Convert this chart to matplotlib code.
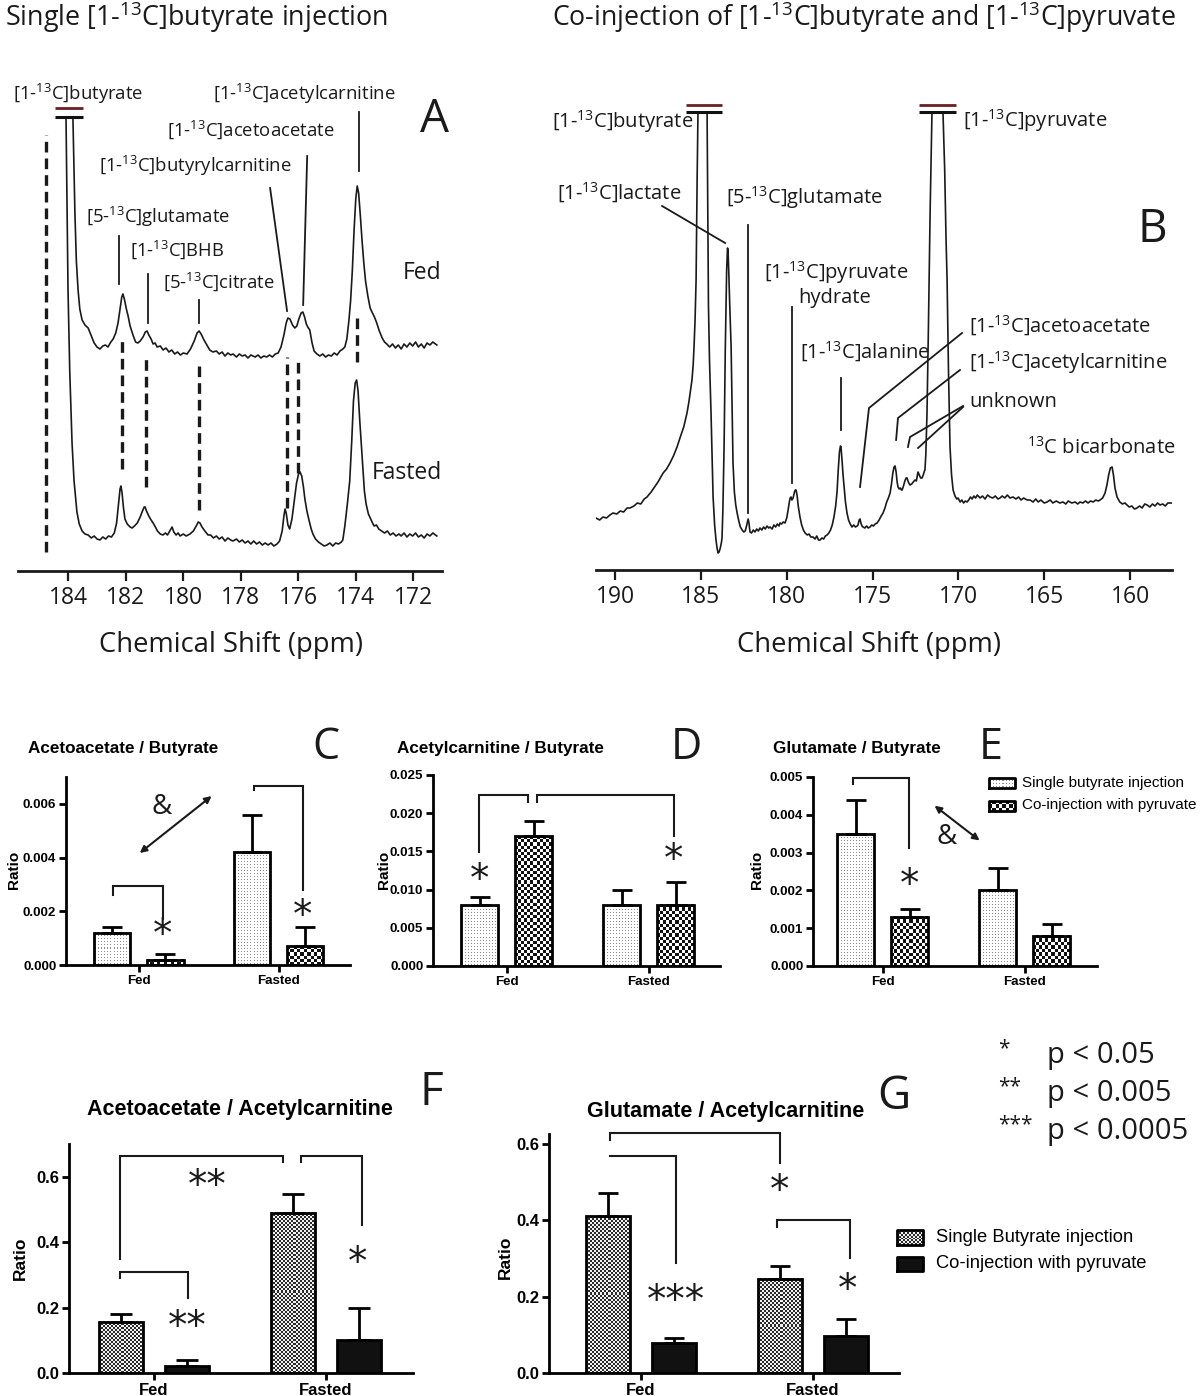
import matplotlib
matplotlib.use('Agg')
import matplotlib.pyplot as plt
import numpy as np
from matplotlib.colors import ListedColormap

plt.rcParams['mathtext.fontset'] = 'custom'
plt.rcParams['mathtext.rm'] = 'Open Sans'
plt.rcParams['mathtext.it'] = 'Open Sans'
plt.rcParams['mathtext.bf'] = 'Open Sans:bold'

W, H = 1200, 1396
fig = plt.figure(figsize=(12, 13.96), dpi=100)

# ---------------- DATA ----------------
# Panel A: single butyrate injection spectra (ppm, intensity a.u.)
a_fed_ppm = [183.84, 183.80, 183.77, 183.72, 183.66, 183.60, 183.52, 183.42, 183.31, 183.20,
             183.10, 183.00, 182.90, 182.80, 182.71, 182.62, 182.52, 182.44, 182.35, 182.27,
             182.20, 182.14, 182.10, 182.05, 181.98, 181.92, 181.85, 181.75, 181.66, 181.58,
             181.50, 181.40, 181.32, 181.26, 181.20, 181.12, 181.05, 180.98, 180.91, 180.80,
             180.70, 180.60, 180.50, 180.40, 180.30, 180.20, 180.10, 180.00, 179.87, 179.75,
             179.62, 179.52, 179.45, 179.38, 179.28, 179.18, 179.08, 178.97, 178.85, 178.75,
             178.65, 178.55, 178.45, 178.35, 178.27, 178.15, 178.05, 177.95, 177.85, 177.75,
             177.65, 177.50, 177.40, 177.30, 177.20, 177.10, 177.00, 176.90, 176.80, 176.70,
             176.60, 176.50, 176.42, 176.36, 176.29, 176.20, 176.12, 176.05, 175.98, 175.90,
             175.84, 175.78, 175.72, 175.67, 175.60, 175.52, 175.45, 175.35, 175.25, 175.15,
             175.05, 174.95, 174.85, 174.75, 174.65, 174.55, 174.45, 174.38, 174.31, 174.24,
             174.18, 174.12, 174.06, 174.00, 173.95, 173.90, 173.84, 173.78, 173.72, 173.66,
             173.58, 173.50, 173.42, 173.35, 173.27, 173.18, 173.08, 173.00, 172.92, 172.82,
             172.72, 172.62, 172.52, 172.42, 172.32, 172.22, 172.12, 172.02, 171.92, 171.82,
             171.72, 171.62, 171.52, 171.42, 171.32, 171.18]
a_fed_int = [454, 400, 358, 310, 281, 262, 251, 246, 243, 235,
             228, 224, 222, 225, 226, 224, 229, 232, 238, 248,
             262, 274, 277, 272, 262, 255, 245, 236, 229, 228,
             230, 234, 239, 240, 236, 232, 227, 228, 224, 225,
             221, 223, 219, 221, 217, 219, 216, 218, 217, 222,
             230, 238, 240, 237, 231, 226, 221, 219, 220, 217,
             219, 215, 218, 216, 217, 214, 217, 215, 216, 213,
             216, 214, 216, 213, 215, 214, 216, 214, 217, 218,
             224, 236, 248, 253, 252, 246, 243, 245, 252, 258,
             259, 254, 247, 244, 241, 228, 220, 217, 215, 217,
             214, 216, 215, 218, 216, 220, 222, 224, 232, 250,
             270, 300, 340, 372, 385, 378, 355, 330, 308, 290,
             275, 263, 258, 254, 248, 240, 233, 229, 227, 224,
             227, 223, 226, 222, 227, 224, 228, 225, 229, 224,
             227, 223, 228, 226, 229, 226]
a_fast_ppm = [184.08, 184.05, 184.01, 183.95, 183.87, 183.80, 183.70, 183.62, 183.52, 183.42,
              183.31, 183.20, 183.10, 183.00, 182.90, 182.80, 182.70, 182.60, 182.50, 182.40,
              182.32, 182.25, 182.20, 182.17, 182.13, 182.08, 182.03, 181.95, 181.85, 181.78,
              181.70, 181.60, 181.50, 181.42, 181.36, 181.33, 181.28, 181.20, 181.12, 181.05,
              180.97, 180.90, 180.80, 180.71, 180.62, 180.55, 180.47, 180.39, 180.33, 180.25,
              180.18, 180.11, 180.00, 179.90, 179.77, 179.65, 179.55, 179.48, 179.42, 179.35,
              179.25, 179.14, 179.05, 178.95, 178.85, 178.75, 178.65, 178.55, 178.45, 178.35,
              178.27, 178.15, 178.05, 177.95, 177.85, 177.75, 177.65, 177.55, 177.45, 177.35,
              177.25, 177.15, 177.05, 176.95, 176.85, 176.74, 176.65, 176.56, 176.50, 176.46,
              176.42, 176.36, 176.30, 176.22, 176.14, 176.06, 175.99, 175.94, 175.88, 175.82,
              175.77, 175.70, 175.62, 175.55, 175.49, 175.40, 175.30, 175.20, 175.10, 175.00,
              174.90, 174.80, 174.70, 174.60, 174.50, 174.45, 174.38, 174.30, 174.21, 174.14,
              174.08, 174.02, 173.97, 173.92, 173.86, 173.81, 173.75, 173.70, 173.64, 173.56,
              173.48, 173.40, 173.36, 173.28, 173.20, 173.10, 173.00, 172.90, 172.80, 172.70,
              172.60, 172.50, 172.42, 172.32, 172.22, 172.12, 172.02, 171.92, 171.82, 171.72,
              171.62, 171.52, 171.42, 171.32, 171.18]
a_fast_int = [454, 380, 281, 200, 128, 90, 59, 47, 40, 37,
              36, 33, 35, 32, 31, 34, 32, 35, 34, 38,
              48, 68, 82, 85, 78, 63, 52, 47, 44, 43,
              45, 48, 54, 60, 64, 64, 60, 55, 51, 48,
              44, 40, 37, 36, 38, 36, 40, 44, 39, 36,
              38, 35, 37, 35, 37, 40, 45, 49, 48, 44,
              40, 36, 36, 33, 35, 32, 34, 30, 33, 31,
              30, 32, 29, 31, 28, 30, 27, 30, 27, 29,
              26, 28, 26, 28, 25, 27, 30, 40, 55, 62,
              58, 46, 42, 52, 70, 88, 97, 99, 95, 84,
              72, 60, 50, 42, 37, 32, 29, 27, 25, 26,
              28, 25, 28, 27, 29, 31, 45, 65, 90, 130,
              170, 188, 191, 180, 150, 128, 100, 80, 67, 57,
              52, 47, 45, 46, 42, 40, 38, 40, 36, 38,
              35, 37, 35, 38, 34, 37, 35, 38, 34, 36,
              33, 37, 35, 38, 35]
a_ticks = [184, 182, 180, 178, 176, 174, 172]

# Panel B: co-injection spectrum
b_ppm = [191.11, 190.90, 190.70, 190.50, 190.30, 190.12, 189.90, 189.70, 189.50, 189.30,
         189.13, 188.90, 188.70, 188.50, 188.30, 188.14, 187.90, 187.70, 187.50, 187.30,
         187.20, 187.00, 186.80, 186.60, 186.39, 186.20, 186.00, 185.81, 185.70, 185.60,
         185.52, 185.45, 185.40, 185.34, 185.28, 185.22, 185.17, 184.64, 184.60, 184.56,
         184.50, 184.45, 184.41, 184.35, 184.29, 184.20, 184.12, 184.06, 184.00, 183.94,
         183.87, 183.80, 183.77, 183.72, 183.65, 183.58, 183.50, 183.45, 183.42, 183.38,
         183.32, 183.24, 183.18, 183.13, 183.05, 182.97, 182.89, 182.78, 182.70, 182.60,
         182.50, 182.42, 182.37, 182.30, 182.25, 182.20, 182.14, 182.05, 181.95, 181.85,
         181.75, 181.65, 181.56, 181.45, 181.35, 181.25, 181.15, 181.05, 180.97, 180.85,
         180.75, 180.65, 180.55, 180.45, 180.39, 180.30, 180.20, 180.10, 180.00, 179.92,
         179.85, 179.80, 179.75, 179.70, 179.63, 179.55, 179.50, 179.46, 179.40, 179.33,
         179.23, 179.13, 179.03, 178.93, 178.80, 178.70, 178.60, 178.47, 178.35, 178.25,
         178.15, 178.06, 177.95, 177.85, 177.75, 177.65, 177.55, 177.45, 177.35, 177.25,
         177.15, 177.07, 177.00, 176.93, 176.87, 176.84, 176.78, 176.72, 176.66, 176.58,
         176.49, 176.40, 176.30, 176.20, 176.10, 176.00, 175.90, 175.85, 175.78, 175.73,
         175.68, 175.62, 175.56, 175.45, 175.35, 175.25, 175.15, 175.05, 174.95, 174.85,
         174.74, 174.62, 174.50, 174.39, 174.28, 174.18, 174.08, 173.98, 173.90, 173.82,
         173.75, 173.69, 173.63, 173.57, 173.52, 173.45, 173.38, 173.32, 173.28, 173.20,
         173.12, 173.05, 172.99, 172.92, 172.82, 172.72, 172.63, 172.53, 172.45, 172.38,
         172.35, 172.28, 172.20, 172.12, 172.05, 171.98, 171.95, 171.90, 171.83, 171.75,
         171.65, 171.54, 170.90, 170.80, 170.72, 170.66, 170.58, 170.49, 170.40, 170.31,
         170.20, 170.10, 170.02, 169.90, 169.80, 169.70, 169.60, 169.50, 169.40, 169.30,
         169.20, 169.10, 169.00, 168.90, 168.74, 168.60, 168.45, 168.30, 168.16, 168.00,
         167.85, 167.70, 167.58, 167.45, 167.30, 167.15, 167.00, 166.82, 166.65, 166.50,
         166.35, 166.20, 166.00, 165.83, 165.65, 165.50, 165.35, 165.20, 165.00, 164.84,
         164.65, 164.50, 164.30, 164.10, 163.91, 163.75, 163.60, 163.40, 163.20, 163.05,
         162.92, 162.75, 162.60, 162.45, 162.30, 162.15, 162.00, 161.85, 161.75, 161.60,
         161.46, 161.35, 161.25, 161.15, 161.05, 160.97, 160.88, 160.76, 160.60, 160.45,
         160.30, 160.18, 160.05, 159.90, 159.75, 159.60, 159.45, 159.30, 159.15, 159.01,
         158.85, 158.70, 158.55, 158.40, 158.26, 158.10, 157.95, 157.80, 157.56]
b_int = [52, 50, 53, 52, 55, 57, 56, 59, 58, 62,
         62, 64, 67, 66, 71, 73, 78, 83, 88, 94,
         97, 101, 107, 114, 123, 133, 143, 157, 168, 180,
         190, 205, 223, 250, 290, 390, 458, 458, 360, 265,
         210, 180, 157, 115, 73, 45, 30, 22, 17, 18,
         22, 28, 32, 60, 123, 220, 300, 322, 320, 300,
         265, 223, 160, 107, 78, 65, 57, 48, 43, 40,
         38, 39, 42, 47, 51, 47, 38, 37, 40, 38,
         41, 39, 42, 40, 43, 41, 44, 42, 43, 41,
         45, 43, 46, 44, 47, 46, 48, 47, 52, 60,
         68, 72, 73, 70, 72, 78, 80, 80, 75, 64,
         53, 45, 40, 37, 35, 36, 33, 33, 31, 34,
         30, 30, 32, 31, 34, 35, 37, 40, 45, 53,
         64, 78, 100, 118, 124, 123, 110, 95, 83, 68,
         57, 50, 46, 43, 45, 43, 44, 45, 50, 51,
         47, 44, 43, 42, 44, 42, 43, 45, 44, 46,
         47, 50, 54, 57, 62, 68, 72, 77, 86, 97,
         103, 104, 98, 88, 83, 81, 82, 80, 80, 84,
         89, 92, 92, 88, 85, 86, 88, 90, 89, 96,
         98, 95, 92, 92, 95, 99, 100, 115, 157, 240,
         357, 458, 458, 400, 330, 290, 200, 123, 95, 80,
         74, 71, 72, 68, 70, 67, 69, 68, 70, 73,
         71, 74, 72, 75, 72, 74, 71, 75, 73, 72,
         74, 71, 72, 74, 72, 75, 72, 73, 71, 73,
         70, 72, 70, 70, 68, 71, 68, 70, 67, 68,
         70, 67, 69, 67, 68, 66, 69, 67, 68, 66,
         68, 67, 69, 67, 69, 68, 70, 69, 70, 72,
         77, 85, 95, 102, 103, 95, 82, 73, 68, 66,
         67, 65, 63, 64, 61, 62, 64, 62, 66, 65,
         63, 66, 64, 67, 65, 66, 64, 67, 67]
b_ticks = [190, 185, 180, 175, 170, 165, 160]

# Bar panels
groups = ['Fed', 'Fasted']
c_single, c_single_err = [0.0012, 0.0042], [0.0002, 0.0014]
c_co, c_co_err = [0.0002, 0.0007], [0.0002, 0.0007]
d_single, d_single_err = [0.008, 0.008], [0.001, 0.002]
d_co, d_co_err = [0.017, 0.008], [0.002, 0.003]
e_single, e_single_err = [0.0035, 0.0020], [0.0009, 0.0006]
e_co, e_co_err = [0.0013, 0.0008], [0.0002, 0.0003]
f_single, f_single_err = [0.157, 0.490], [0.023, 0.057]
f_co, f_co_err = [0.020, 0.100], [0.020, 0.100]
g_single, g_single_err = [0.410, 0.246], [0.062, 0.035]
g_co, g_co_err = [0.078, 0.098], [0.014, 0.043]

# ---------------- helpers ----------------
def box(x0, y0, x1, y1):
    return [x0 / W, 1 - y1 / H, (x1 - x0) / W, (y1 - y0) / H]

def ftext(x, y, s, **kw):
    return fig.text(x / W, 1 - y / H, s, **kw)

SANS = 'Open Sans'
BOLD = 'Liberation Sans'
INK = '#1a1a1a'

def spec_axes(rect, xlim, ylim, ticks):
    ax = fig.add_axes(box(*rect))
    ax.set_xlim(*xlim)
    ax.set_ylim(*ylim)
    for s in ['top', 'right', 'left']:
        ax.spines[s].set_visible(False)
    ax.spines['bottom'].set_linewidth(2)
    ax.spines['bottom'].set_color(INK)
    ax.set_yticks([])
    ax.set_xticks(ticks)
    ax.set_xticklabels([str(t) for t in ticks], fontsize=16.5, family=SANS, color=INK)
    ax.tick_params(axis='x', direction='out', length=7, width=1.6, pad=4, color=INK)
    ax.patch.set_alpha(0)
    return ax

def double_bar(ax, x0, x1, ytop, ybot):
    ax.plot([x0, x1], [ytop, ytop], color='#6b1f1f', lw=2.0, solid_capstyle='butt', clip_on=False)
    ax.plot([x0, x1], [ybot, ybot], color='#111111', lw=2.2, solid_capstyle='butt', clip_on=False)

# ---------------- titles ----------------
ftext(5, 26, 'Single [1-$^{13}$C]butyrate injection', fontsize=19.4, family=SANS, va='baseline', color=INK)
ftext(552, 26, 'Co-injection of [1-$^{13}$C]butyrate and [1-$^{13}$C]pyruvate', fontsize=19.2, family=SANS, va='baseline', color=INK)

# ---------------- Panel A ----------------
axA = spec_axes((18, 60, 442, 571), (185.75, 171.0), (0, 511), a_ticks)
axA.plot(a_fed_ppm, a_fed_int, color=INK, lw=1.2)
axA.plot(a_fast_ppm, a_fast_int, color=INK, lw=1.2)
double_bar(axA, 184.46, 183.49, 463, 454)
a_dash = [(184.77, 19, 436), (182.12, 102, 232), (181.29, 84, 213), (179.44, 61, 205),
          (176.38, 63, 214), (176.00, 98, 209), (173.95, 209, 257)]
for p, lo, hi in a_dash:
    axA.plot([p, p], [lo, hi], color=INK, lw=2.4, linestyle=(0, (3.2, 1.8)))
a_lines = [([182.24, 182.24], [335, 287]), ([181.23, 181.23], [297, 248]),
           ([179.45, 179.45], [271, 248]), ([176.98, 176.39], [383, 260]),
           ([175.69, 175.83], [415, 266]), ([173.88, 173.88], [459, 400])]
for xs, ys in a_lines:
    axA.plot(xs, ys, color=INK, lw=1.3)
a_labels = [(13, 94, '[1-$^{13}$C]butyrate'), (213, 94, '[1-$^{13}$C]acetylcarnitine'),
            (167, 130, '[1-$^{13}$C]acetoacetate'), (99, 166, '[1-$^{13}$C]butyrylcarnitine'),
            (86, 217, '[5-$^{13}$C]glutamate'), (130, 250, '[1-$^{13}$C]BHB'),
            (163, 282, '[5-$^{13}$C]citrate')]
for x, y, s in a_labels:
    ftext(x, y, s, fontsize=13.3, family=SANS, va='center', color=INK)
ftext(441, 273, 'Fed', fontsize=16.5, family=SANS, va='center', ha='right', color=INK)
ftext(442, 473, 'Fasted', fontsize=16.5, family=SANS, va='center', ha='right', color=INK)
ftext(434, 120, 'A', fontsize=33, family=SANS, va='center', ha='center', color=INK)
ftext(231, 645, 'Chemical Shift (ppm)', fontsize=19.7, family=SANS, va='center', ha='center', color=INK)

# ---------------- Panel B ----------------
axB = spec_axes((596, 60, 1172, 570), (191.11, 157.56), (0, 510), b_ticks)
axB.plot(b_ppm, b_int, color=INK, lw=1.2)
double_bar(axB, 185.86, 183.77, 465, 458)
double_bar(axB, 172.29, 170.14, 465, 458)
b_lines = [([187.26, 183.59], [364, 327]), ([182.25, 182.25], [345, 57]),
           ([179.69, 179.69], [263, 87]), ([176.84, 176.84], [192, 140]),
           ([175.73, 175.21, 169.79], [83, 162, 237]),
           ([173.63, 173.52, 169.91], [130, 152, 200]),
           ([172.94, 172.82, 169.73], [123, 133, 164]),
           ([172.35, 169.73], [122, 163])]
for xs, ys in b_lines:
    axB.plot(xs, ys, color=INK, lw=1.3)
b_labels = [(693, 122, '[1-$^{13}$C]butyrate', 'right'), (557, 193, '[1-$^{13}$C]lactate', 'left'),
            (726, 198, '[5-$^{13}$C]glutamate', 'left'), (764, 273, '[1-$^{13}$C]pyruvate', 'left'),
            (800, 352, '[1-$^{13}$C]alanine', 'left'), (969, 326, '[1-$^{13}$C]acetoacetate', 'left'),
            (969, 363, '[1-$^{13}$C]acetylcarnitine', 'left'), (969, 402, 'unknown', 'left'),
            (1027, 448, '$^{13}$C bicarbonate', 'left'), (963, 121, '[1-$^{13}$C]pyruvate', 'left')]
for x, y, s, ha in b_labels:
    ftext(x, y, s, fontsize=14.5, family=SANS, va='center', ha=ha, color=INK)
ftext(835, 298, 'hydrate', fontsize=14.5, family=SANS, va='center', ha='center', color=INK)
ftext(1152, 230, 'B', fontsize=33, family=SANS, va='center', ha='center', color=INK)
ftext(869, 645, 'Chemical Shift (ppm)', fontsize=19.7, family=SANS, va='center', ha='center', color=INK)

# ---------------- bar panels ----------------
def texture(ax, x0, x1, y0, y1, kind):
    if kind == 'solid':
        ax.fill_between([x0, x1], [y0, y0], [y1, y1], color='#111111', lw=0, zorder=2)
        return
    (px0, py0), (px1, py1) = ax.transData.transform([(x0, y0), (x1, y1)])
    cell = {'stipple': 1.0, 'check': 3.2, 'finecheck': 2.0}[kind]
    nx = max(1, int(round(abs(px1 - px0) / cell)))
    ny = max(1, int(round(abs(py1 - py0) / cell)))
    ii, jj = np.indices((ny, nx))
    if kind == 'stipple':
        pat = ((ii % 3 == 1) & (jj % 3 == 1)).astype(int)
        cmap = ListedColormap(['white', '#8c8c8c'])
    elif kind == 'check':
        pat = (ii + jj) % 2
        cmap = ListedColormap(['white', '#111111'])
    else:
        pat = (ii + jj) % 2
        cmap = ListedColormap(['#f2f2f2', '#2a2a2a'])
    ax.imshow(pat, extent=(x0, x1, y0, y1), origin='lower', cmap=cmap, vmin=0, vmax=1,
              interpolation='nearest', aspect='auto', zorder=2)

def bar_axes(rect, xlim, ylim, yticks, yfmt, fs):
    ax = fig.add_axes(box(*rect))
    ax.set_xlim(*xlim)
    ax.set_ylim(*ylim)
    for s in ['top', 'right']:
        ax.spines[s].set_visible(False)
    for s in ['left', 'bottom']:
        ax.spines[s].set_linewidth(2)
    ax.set_yticks(yticks)
    ax.set_yticklabels([yfmt.format(v) for v in yticks], fontsize=fs, fontweight='bold', family=BOLD)
    ax.set_xticks(range(len(groups)))
    ax.set_xticklabels(groups, fontsize=fs, fontweight='bold', family=BOLD)
    ax.tick_params(axis='both', direction='out', length=5, width=2, pad=2)
    ax.patch.set_alpha(0)
    return ax

def draw_bars(ax, single, s_err, co, c_err, s_kind, c_kind, off=0.19, width=0.26, cap=7):
    x = np.arange(len(groups))
    for vals, errs, xs, kind in ((single, s_err, x - off, s_kind), (co, c_err, x + off, c_kind)):
        for xc, v in zip(xs, vals):
            texture(ax, xc - width / 2, xc + width / 2, 0, v, kind)
        ax.bar(xs, vals, width, fill=False, edgecolor='black', linewidth=2, zorder=3)
        ax.errorbar(xs, vals, yerr=[np.zeros(len(vals)), errs], fmt='none', ecolor='black',
                    elinewidth=2, capsize=cap, capthick=2, zorder=4)

def bracket(ax, xs, ys):
    ax.plot(xs, ys, color='#1a1a1a', lw=1.5, clip_on=False, solid_joinstyle='miter')

def star(ax, x, y, n=1, fs=28):
    # DejaVu asterisk sits high in the em box; shift it down so its centre is at (x, y)
    ax.annotate('*' * n, (x, y), xytext=(0, -0.2 * fs), textcoords='offset points',
                fontsize=fs, family='DejaVu Sans', ha='center', va='center', color='#1a1a1a',
                annotation_clip=False)

def dblarrow(ax, p0, p1):
    ax.annotate('', xy=p1, xytext=p0, annotation_clip=False,
                arrowprops=dict(arrowstyle='<|-|>', lw=1.5, color='#1a1a1a', mutation_scale=10,
                                shrinkA=0, shrinkB=0))

def legend_patch(x0, y0, x1, y1, kind):
    lax = fig.add_axes(box(x0, y0, x1, y1))
    lax.set_xlim(0, 1)
    lax.set_ylim(0, 1)
    lax.set_axis_off()
    texture(lax, 0, 1, 0, 1, kind)
    lax.set_xlim(0, 1)
    lax.set_ylim(0, 1)
    lax.plot([0, 1, 1, 0, 0], [0, 0, 1, 1, 0], color='black', lw=2, clip_on=False, zorder=3)

TICK_S = 9.6

# Panel C
axC = bar_axes((66, 777, 350, 965), (-0.52, 1.51), (0, 0.007), [0, 0.002, 0.004, 0.006], '{:.3f}', TICK_S)
draw_bars(axC, c_single, c_single_err, c_co, c_co_err, 'stipple', 'check')
bracket(axC, [-0.186, -0.186, 0.171, 0.171], [0.00261, 0.00294, 0.00294, 0.00171])
bracket(axC, [0.821, 0.821, 1.171, 1.171], [0.00652, 0.00667, 0.00667, 0.00279])
star(axC, 0.171, 0.00142)
star(axC, 1.171, 0.00212)
dblarrow(axC, (0.007, 0.00417), (0.521, 0.00629))
axC.text(0.164, 0.00588, '&', fontsize=20, family=SANS, ha='center', va='center', color=INK)
ftext(28, 748, 'Acetoacetate / Butyrate', fontsize=12.3, fontweight='bold', family=BOLD, va='center')
ftext(326, 748, 'C', fontsize=31, family=SANS, va='center', ha='center', color=INK)
ftext(14, 870, 'Ratio', fontsize=11, fontweight='bold', family=BOLD, va='center', ha='center', rotation=90)

# Panel D
axD = bar_axes((433, 775, 720, 966), (-0.52, 1.5), (0, 0.025), [0, 0.005, 0.010, 0.015, 0.020, 0.025], '{:.3f}', TICK_S)
draw_bars(axD, d_single, d_single_err, d_co, d_co_err, 'stipple', 'check')
bracket(axD, [-0.197, -0.197, 0.148, 0.148], [0.01487, 0.02237, 0.02237, 0.02145])
bracket(axD, [0.211, 0.211, 1.176, 1.176], [0.02145, 0.02237, 0.02237, 0.01697])
star(axD, -0.19, 0.01224)
star(axD, 1.176, 0.01487)
ftext(397, 748, 'Acetylcarnitine / Butyrate', fontsize=12.3, fontweight='bold', family=BOLD, va='center')
ftext(686, 748, 'D', fontsize=31, family=SANS, va='center', ha='center', color=INK)
ftext(384, 870, 'Ratio', fontsize=11, fontweight='bold', family=BOLD, va='center', ha='center', rotation=90)

# Panel E
axE = bar_axes((813, 777, 1097, 966), (-0.49, 1.51), (0, 0.005), [0, 0.001, 0.002, 0.003, 0.004, 0.005], '{:.3f}', TICK_S)
draw_bars(axE, e_single, e_single_err, e_co, e_co_err, 'stipple', 'check')
bracket(axE, [-0.211, -0.211, 0.183, 0.183], [0.00482, 0.00497, 0.00497, 0.00311])
star(axE, 0.19, 0.00234)
dblarrow(axE, (0.366, 0.00424), (0.683, 0.00332))
axE.text(0.451, 0.0034, '&', fontsize=20, family=SANS, ha='center', va='center', color=INK)
ftext(773, 748, 'Glutamate / Butyrate', fontsize=12.3, fontweight='bold', family=BOLD, va='center')
ftext(991, 748, 'E', fontsize=31, family=SANS, va='center', ha='center', color=INK)
ftext(757, 870, 'Ratio', fontsize=11, fontweight='bold', family=BOLD, va='center', ha='center', rotation=90)

legend_patch(989, 778, 1015, 788, 'stipple')
legend_patch(989, 801, 1015, 811, 'check')
ftext(1022, 783, 'Single butyrate injection', fontsize=11, family=BOLD, va='center')
ftext(1022, 805, 'Co-injection with pyruvate', fontsize=11, family=BOLD, va='center')

# Panel F
axF = bar_axes((69, 1144, 413, 1373), (-0.494, 1.506), (0, 0.7), [0, 0.2, 0.4, 0.6], '{:.1f}', 12)
draw_bars(axF, f_single, f_single_err, f_co, f_co_err, 'finecheck', 'solid', width=0.256, cap=8)
bracket(axF, [-0.198, -0.198, 0.75, 0.75], [0.348, 0.663, 0.663, 0.644])
bracket(axF, [0.855, 0.855, 1.209, 1.209], [0.644, 0.663, 0.663, 0.452])
bracket(axF, [-0.198, -0.198, 0.198, 0.198], [0.29, 0.308, 0.308, 0.229])
star(axF, 0.308, 0.595, 2)
star(axF, 0.192, 0.165, 2)
star(axF, 1.186, 0.36)
ftext(240, 1110, 'Acetoacetate / Acetylcarnitine', fontsize=15.5, fontweight='bold', family=BOLD, va='center', ha='center')
ftext(431, 1093, 'F', fontsize=33, family=SANS, va='center', ha='center', color=INK)
ftext(20, 1258, 'Ratio', fontsize=12.5, fontweight='bold', family=BOLD, va='center', ha='center', rotation=90)

# Panel G
axG = bar_axes((549, 1134, 899, 1373), (-0.535, 1.5), (0, 0.625), [0, 0.2, 0.4, 0.6], '{:.1f}', 12)
draw_bars(axG, g_single, g_single_err, g_co, g_co_err, 'finecheck', 'solid', width=0.256, cap=7)
bracket(axG, [-0.18, -0.18, 0.808, 0.808], [0.61, 0.628, 0.628, 0.55])
bracket(axG, [-0.18, 0.203, 0.203], [0.568, 0.568, 0.288])
bracket(axG, [0.791, 0.791, 1.215, 1.215], [0.382, 0.40, 0.40, 0.301])
star(axG, 0.808, 0.497)
star(axG, 0.203, 0.209, 3)
star(axG, 1.198, 0.238)
ftext(726, 1112, 'Glutamate / Acetylcarnitine', fontsize=15.5, fontweight='bold', family=BOLD, va='center', ha='center')
ftext(894, 1097, 'G', fontsize=33, family=SANS, va='center', ha='center', color=INK)
ftext(505, 1257, 'Ratio', fontsize=12.5, fontweight='bold', family=BOLD, va='center', ha='center', rotation=90)

legend_patch(897, 1230, 923, 1245, 'finecheck')
legend_patch(897, 1257, 923, 1271, 'solid')
ftext(936, 1237, 'Single Butyrate injection', fontsize=13.2, family=BOLD, va='center')
ftext(936, 1264, 'Co-injection with pyruvate', fontsize=13.2, family=BOLD, va='center')

# p-value key
for y, stars_, txt in [(1055, '*', 'p < 0.05'), (1093, '**', 'p < 0.005'), (1131, '***', 'p < 0.0005')]:
    ftext(998, y - 6, stars_, fontsize=15, family=SANS, va='center', ha='left', color=INK)
    ftext(1047, y, txt, fontsize=21, family=SANS, va='center', ha='left', color=INK)

fig.savefig('out.png', dpi=100)
